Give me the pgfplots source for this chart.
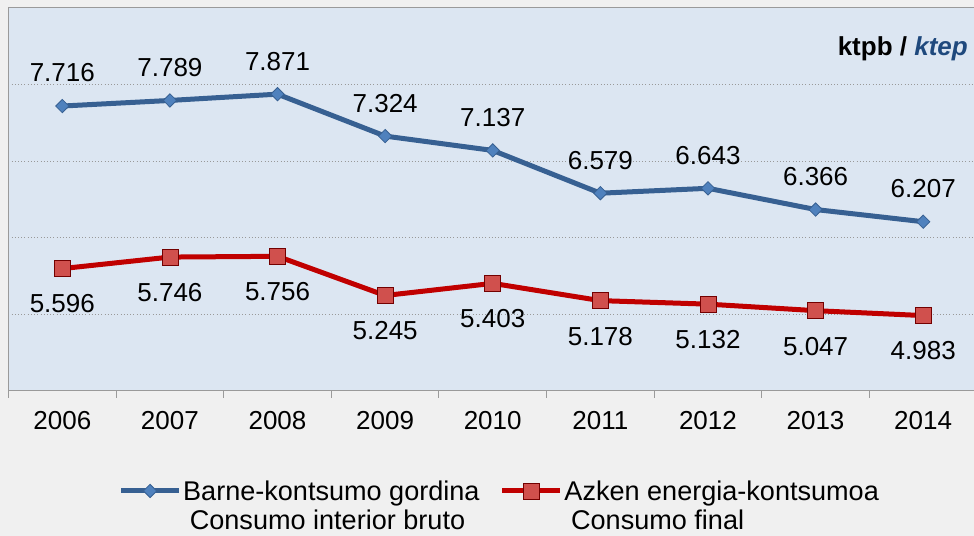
\documentclass[border=0pt]{standalone}
\usepackage{fontspec}
\setmainfont{Liberation Sans}
\usepackage{pgfplots}
\usepackage{pgfplotstable}
\pgfplotsset{compat=1.18}

\definecolor{bgout}{HTML}{F0F0F0}
\definecolor{bgplot}{HTML}{DCE6F2}
\definecolor{frame}{HTML}{9A9A9A}
\definecolor{blueline}{HTML}{376092}
\definecolor{bluemark}{HTML}{4F81BD}
\definecolor{redline}{HTML}{C00000}
\definecolor{redmark}{HTML}{D0504D}
\definecolor{unitblue}{HTML}{1F497D}

% ktpb / ktep
\pgfplotstableread{
year inner final
2006 7716 5596
2007 7789 5746
2008 7871 5756
2009 7324 5245
2010 7137 5403
2011 6579 5178
2012 6643 5132
2013 6366 5047
2014 6207 4983
}\energy

\begin{document}
\begin{tikzpicture}[font=\fontsize{19.5}{21.75}\selectfont]
\useasboundingbox (-6.375pt,-108.75pt) rectangle (724.125pt,293.2pt);
\fill[bgout] (-6.375pt,-108.75pt) rectangle (724.125pt,293.2pt);
\clip (-6.375pt,-108.75pt) rectangle (724.125pt,293.2pt);
\begin{axis}[
  at={(0pt,0pt)}, anchor=south west,
  scale only axis, width=726.4pt, height=287.5pt,
  xmin=2005.5, xmax=2014.5, ymin=4000, ymax=9000,
  axis background/.style={fill=bgplot},
  axis line style={draw=frame, line width=0.8pt},
  xtick={2006,...,2014},
  minor xtick={2005.5,2006.5,...,2014.5},
  ytick={5000,6000,7000,8000}, yticklabels={},
  major tick length=0pt, minor tick length=5.25pt, tick align=outside,
  xtick pos=bottom, ytick pos=left,
  tick style={draw=frame, line width=0.8pt},
  ymajorgrids, grid style={dotted, draw=gray!80, line width=0.5pt},
  xticklabel style={/pgf/number format/1000 sep={}, anchor=center, yshift=-22.5pt},
  /pgf/number format/1000 sep={.},
  /pgf/number format/assume math mode=true,
  nodes near coords,
  legend columns=2,
  legend style={at={(0.507,-0.22)}, anchor=north, draw=none, fill=none,
    font=\fontsize{20.3}{21.75}\selectfont,
    /tikz/every even column/.append style={column sep=14pt},
    nodes={inner sep=1.2pt}},
  legend image code/.code={\draw[mark repeat=2,mark phase=2,#1]
    plot coordinates {(0pt,0pt) (21.75pt,0pt) (43.5pt,0pt)};},
]
\addplot[color=blueline, line width=3.75pt, mark=diamond*, mark size=5pt,
  mark options={fill=bluemark, draw=blueline, line width=0.6pt, xscale=1.33},
  nodes near coords style={anchor=center, yshift=24.75pt, black}]
  table[x=year, y=inner] {\energy};
\addlegendentry{\begin{tabular}[t]{@{}l@{}}Barne-kontsumo gordina\\\hspace{5pt}Consumo interior bruto\end{tabular}}
\addplot[color=redline, line width=3.75pt, mark=square*, mark size=6pt,
  mark options={fill=redmark, draw=red!45!black, line width=0.6pt},
  nodes near coords style={anchor=center, yshift=-26.6pt, black}]
  table[x=year, y=final] {\energy};
\addlegendentry{\begin{tabular}[t]{@{}l@{}}Azken energia-kontsumoa\\\hspace{5pt}Consumo final\end{tabular}}
\node[anchor=base east, inner sep=0pt] at (rel axis cs:0.9907,0.876)
  {\bfseries ktpb / \itshape\color{unitblue}ktep};
\end{axis}
\end{tikzpicture}
\end{document}
